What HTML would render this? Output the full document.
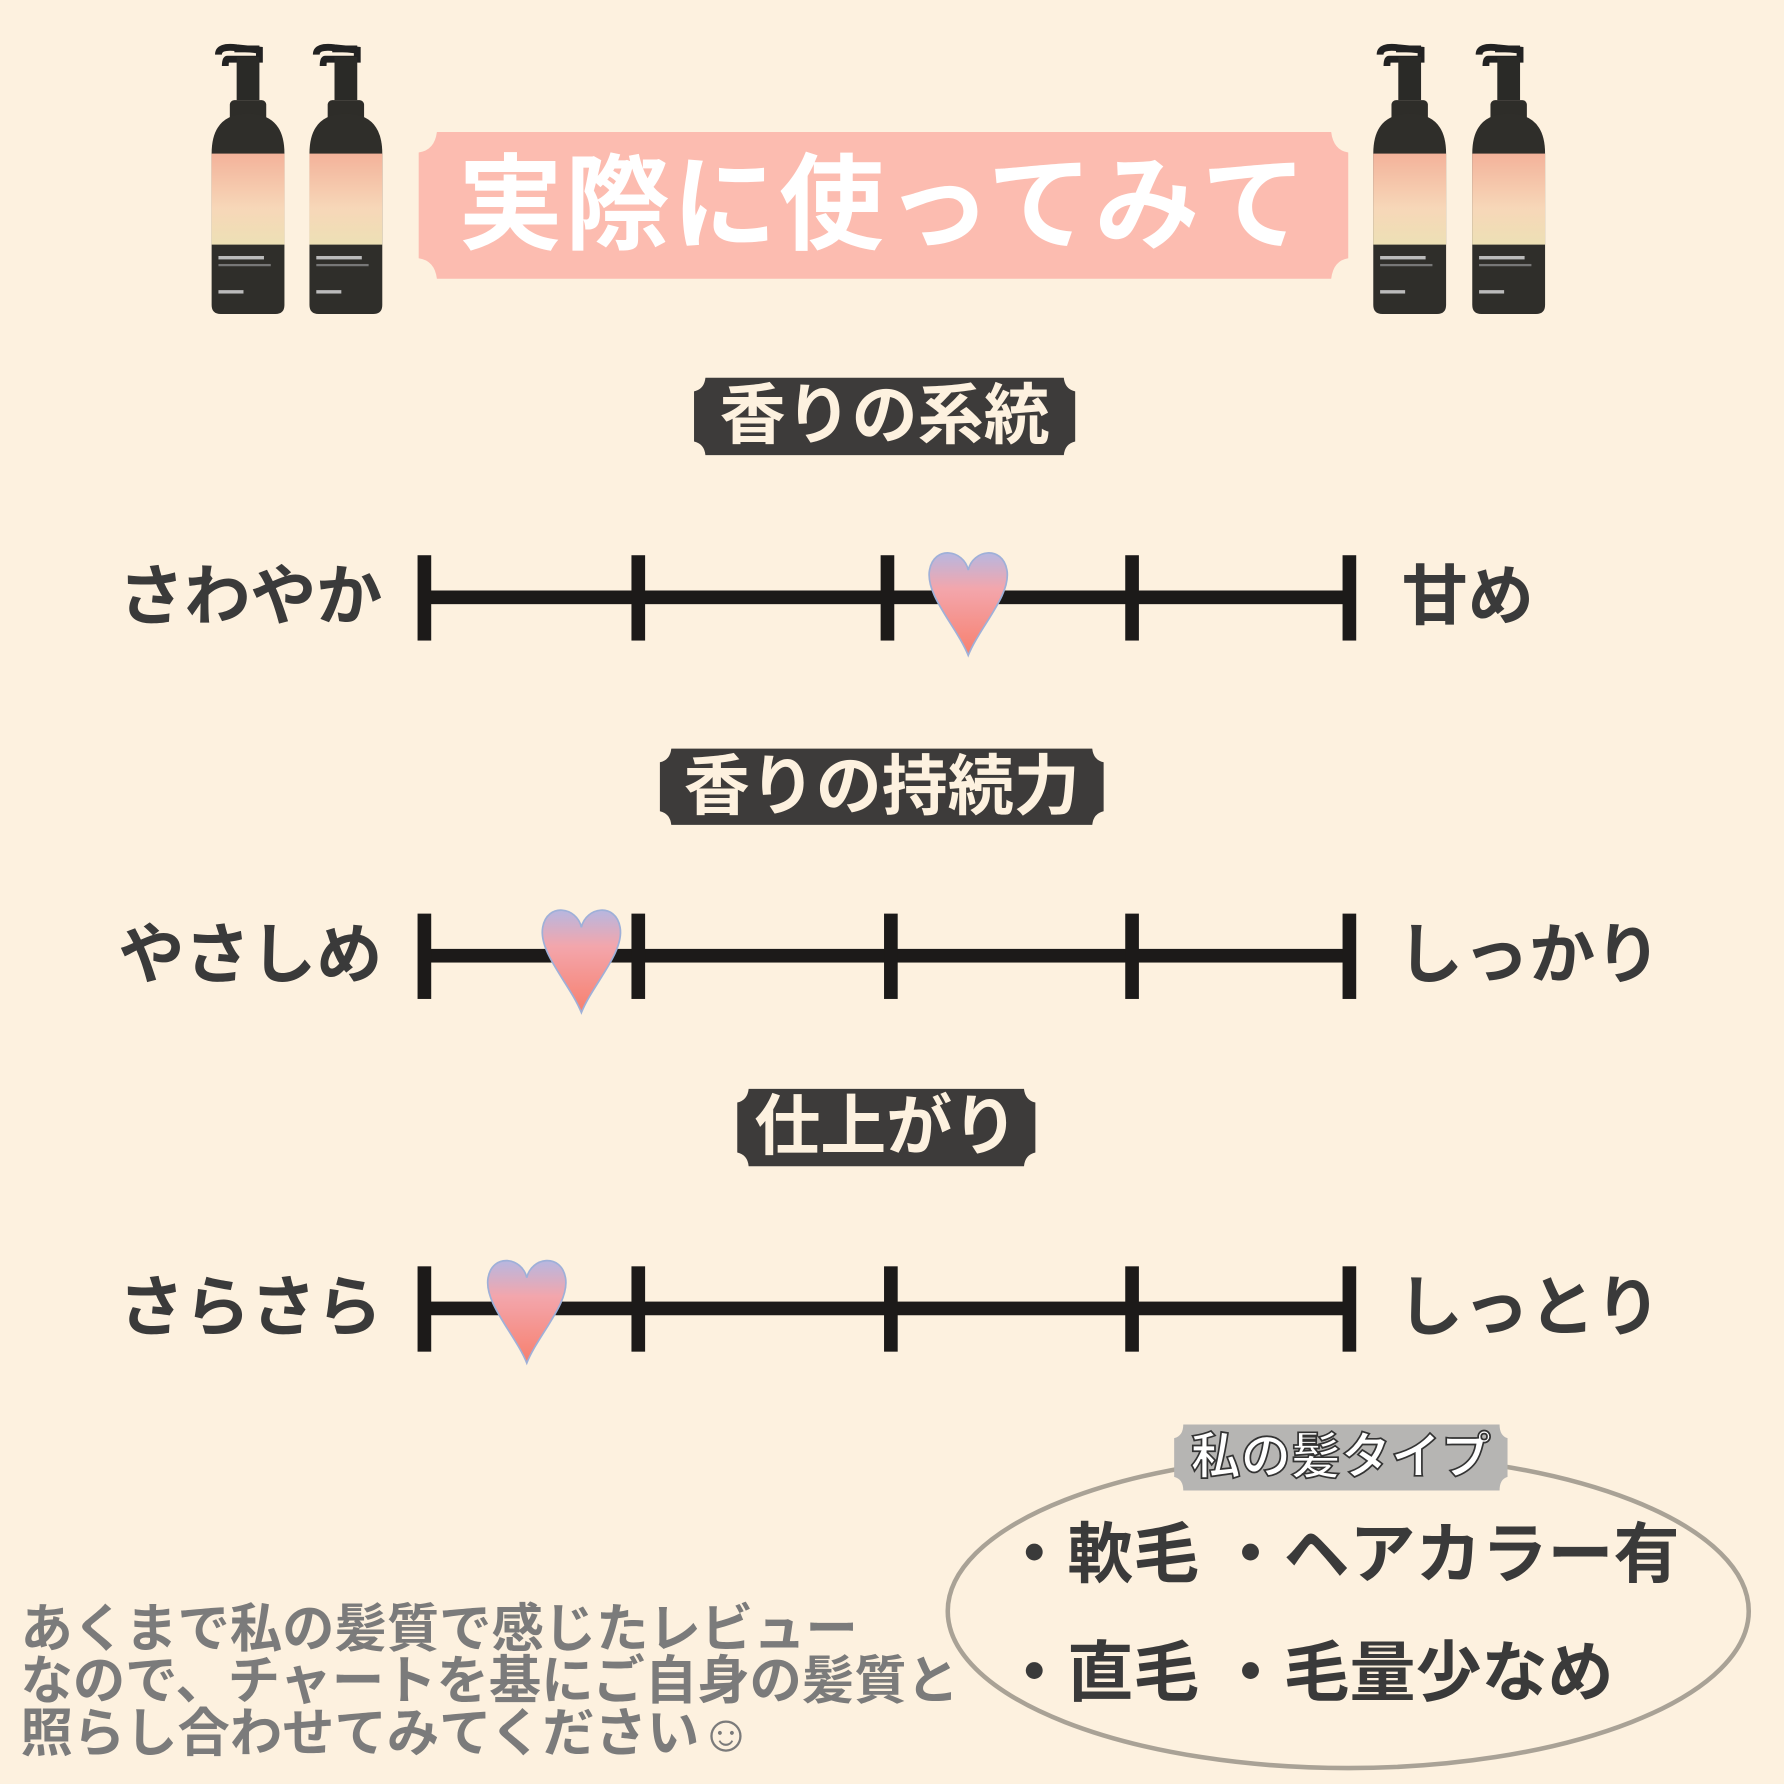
<!DOCTYPE html>
<html><head><meta charset="utf-8"><style>
html,body{margin:0;padding:0;background:#fdf1df;}
#w{width:1568px;height:1568px;transform:scale(1.13776);transform-origin:0 0;position:relative;overflow:hidden;background:#fdf1df;font-family:"Liberation Sans","Noto Sans CJK JP",sans-serif;}
.a{position:absolute;white-space:nowrap;}
.side{position:absolute;color:#3a3a3a;font-weight:bold;font-size:58px;line-height:1;}
</style></head><body><div id="w">
<svg width="1568" height="1568" style="position:absolute;left:0;top:0">
<defs>
<linearGradient id="hg" x1="0" y1="0" x2="0" y2="1">
<stop offset="0" stop-color="#b7b7e0"/><stop offset="0.35" stop-color="#f3a6ac"/><stop offset="1" stop-color="#f7806e"/></linearGradient>
<linearGradient id="lab" x1="0" y1="0" x2="0" y2="1"><stop offset="0" stop-color="#f3b29a"/><stop offset="0.6" stop-color="#f7d7b8"/><stop offset="1" stop-color="#ede0b5"/></linearGradient>
<g id="bottle">
<rect x="28" y="0" width="22" height="6" fill="#222"/>
<path d="M14 8 Q14 0 30 2 L50 4 L50 12 L22 12 Q20 12 20 18" stroke="#222" stroke-width="6" fill="none"/>
<rect x="30" y="10" width="20" height="38" fill="#2a2a27"/>
<rect x="24" y="48" width="32" height="22" rx="4" fill="#2e2d29"/>
<path d="M8 95 Q8 60 40 60 Q72 60 72 95 L72 228 Q72 236 64 236 L16 236 Q8 236 8 228 Z" fill="#2f2e2a"/>
<rect x="8" y="95" width="64" height="80" fill="url(#lab)"/>
<rect x="14" y="185" width="40" height="3" fill="#bbb"/>
<rect x="14" y="192" width="46" height="2" fill="#777"/>
<rect x="14" y="215" width="22" height="3" fill="#bbb"/>
</g>
<g id="h"><path d="M36 20 C32 2 6 -2 2 20 C-2 42 26 70 36 95 C46 70 74 42 70 20 C66 -2 40 2 36 20Z" fill="url(#hg)" stroke="#9fb0d8" stroke-width="1.5"/></g>
</defs>
<use href="#bottle" x="178" y="40"/><use href="#bottle" x="264" y="40"/>
<use href="#bottle" x="1199" y="40"/><use href="#bottle" x="1286" y="40"/>
<path d="M384 116 L1170 116 Q1172 132 1185 134 L1185 227 Q1172 229 1170 245 L384 245 Q382 229 368 227 L368 134 Q382 132 384 116Z" fill="#fcbcb0"/>
<g fill="#1c1a19">
<rect x="372" y="519" width="818" height="12"/>
<rect x="367" y="488" width="12" height="75"/><rect x="555" y="488" width="12" height="75"/><rect x="774" y="488" width="12" height="75"/><rect x="989" y="488" width="12" height="75"/><rect x="1180" y="488" width="12" height="75"/>
<rect x="372" y="834" width="818" height="12"/>
<rect x="367" y="803" width="12" height="75"/><rect x="555" y="803" width="12" height="75"/><rect x="777" y="803" width="12" height="75"/><rect x="989" y="803" width="12" height="75"/><rect x="1180" y="803" width="12" height="75"/>
<rect x="372" y="1144" width="818" height="12"/>
<rect x="367" y="1113" width="12" height="75"/><rect x="555" y="1113" width="12" height="75"/><rect x="777" y="1113" width="12" height="75"/><rect x="989" y="1113" width="12" height="75"/><rect x="1180" y="1113" width="12" height="75"/>
</g>
<use href="#h" x="815" y="481"/>
<use href="#h" x="475" y="795"/>
<use href="#h" x="427" y="1103"/>
<ellipse cx="1185" cy="1416" rx="352" ry="138" fill="none" stroke="#a9a296" stroke-width="4"/>
<path d="M1040 1252 L1318 1252 Q1318 1262 1325 1264 L1325 1298 Q1318 1300 1318 1310 L1040 1310 Q1040 1300 1032 1298 L1032 1264 Q1040 1262 1040 1252Z" fill="#b6b5b3"/>
<path d="M620 332 L935 332 Q936 342 945 344 L945 388 Q936 390 935 400 L620 400 Q619 390 610 388 L610 344 Q619 342 620 332Z" fill="#3d3b3a"/>
<path d="M590 658 L960 658 Q961 668 970 670 L970 713 Q961 715 960 725 L590 725 Q589 715 580 713 L580 670 Q589 668 590 658Z" fill="#3d3b3a"/>
<path d="M658 957 L900 957 Q901 967 910 969 L910 1013 Q901 1015 900 1025 L658 1025 Q657 1015 648 1013 L648 969 Q657 967 658 957Z" fill="#3d3b3a"/>
</svg>
<div class="a" style="left:368px;top:126px;width:817px;text-align:center;color:#fff;font-weight:bold;font-size:92px;line-height:110px;letter-spacing:2px">実際に使ってみて</div>
<div class="a" style="left:610px;top:332px;width:335px;text-align:center;color:#fdf1df;font-weight:bold;font-size:58px;line-height:68px">香りの系統</div>
<div class="a" style="left:580px;top:658px;width:390px;text-align:center;color:#fdf1df;font-weight:bold;font-size:58px;line-height:67px">香りの持続力</div>
<div class="a" style="left:648px;top:957px;width:262px;text-align:center;color:#fdf1df;font-weight:bold;font-size:58px;line-height:68px">仕上がり</div>
<div class="side" style="left:104px;top:496px">さわやか</div>
<div class="side" style="left:1232px;top:496px">甘め</div>
<div class="side" style="left:104px;top:811px">やさしめ</div>
<div class="side" style="left:1228px;top:811px">しっかり</div>
<div class="side" style="left:104px;top:1121px">さらさら</div>
<div class="side" style="left:1228px;top:1121px">しっとり</div>
<div class="a" style="left:1032px;top:1252px;width:293px;text-align:center;color:#fff;font-weight:bold;font-size:44px;line-height:58px;-webkit-text-stroke:1.5px #333;">私の髪タイプ</div>
<div class="a" style="left:880px;top:1334px;color:#3a3a3a;font-weight:bold;font-size:58px;line-height:66px">・軟毛 ・ヘアカラー有</div>
<div class="a" style="left:880px;top:1438px;color:#3a3a3a;font-weight:bold;font-size:58px;line-height:66px">・直毛 ・毛量少なめ</div>
<div class="a" style="left:18px;top:1408px;color:#7b7b7b;font-weight:bold;font-size:46px;line-height:46px">あくまで私の髪質で感じたレビュー<br>なので、チャートを基にご自身の髪質と<br>照らし合わせてみてください☺</div>
</div></body></html>
